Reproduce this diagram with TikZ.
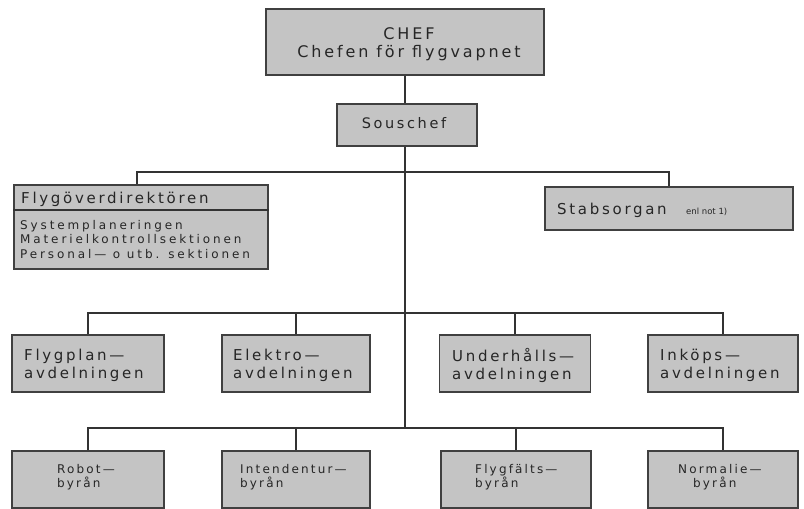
\documentclass[tikz,border=0pt]{standalone}
\usepackage{fontspec}
\setmainfont{DejaVu Sans}
\newfontfamily\wf[LetterSpace=18]{DejaVu Sans}
\newfontfamily\wfw[LetterSpace=24]{DejaVu Sans}
\begin{document}
\begin{tikzpicture}[x=1pt,y=-1pt,
  box/.style={draw=black!75, line width=1.1pt, fill=black!23, inner sep=0pt},
  conn/.style={draw=black!80, line width=1.1pt},
  lbl/.style={inner sep=0pt, align=left, text=black!85},
  big/.style={lbl, font=\wf\fontsize{15}{18}\selectfont},
  mid/.style={lbl, font=\wfw\fontsize{12}{14.5}\selectfont},
  sml/.style={lbl, font=\wf\fontsize{12}{13.5}\selectfont}]
\useasboundingbox (0,0) rectangle (804,509);
% top
\node[box, minimum width=278pt, minimum height=66pt] (chef) at (405,42) {};
\node[lbl, align=center, font=\wf\fontsize{16}{18}\selectfont] (chefT) at (409,44) {CHEF\\Chefen för flygvapnet};
\node[box, minimum width=140pt, minimum height=42pt] (sous) at (407,125) {};
\node[lbl, font=\wf\fontsize{14.5}{17}\selectfont] (sousT) at (404,123) {Souschef};
% second level
\node[box, minimum width=254pt, minimum height=84pt] (fod) at (141,227) {};
\draw[conn] (fod.west |- 0,210) coordinate (dl) -- (fod.east |- 0,210) coordinate (dr);
\node[lbl, anchor=base west, font=\wf\fontsize{15}{17}\selectfont] (fodT) at (21,203) {Flygöverdirektören};
\node[mid, anchor=north west] (fodS) at (20,220) {Systemplaneringen\\Materielkontrollsektionen\\Personal— o utb. sektionen};
\node[box, minimum width=248pt, minimum height=43pt] (stab) at (669,208.5) {};
\node[lbl, anchor=base west, font=\wf\fontsize{15}{17}\selectfont] (stabT) at (557,214) {Stabsorgan};
\node[lbl, anchor=base west, font=\fontsize{8.5}{9}\selectfont] (stabN) at (686,214) {enl not 1)};
% junctions
\coordinate (j1) at (405,172);
\coordinate (j2) at (405,313);
\coordinate (j3) at (405,428);
% row 2
\node[box, minimum width=152pt, minimum height=57pt] (fp) at (88,363.5) {};
\node[big, anchor=west] (fpT) at (24,365) {Flygplan—\\avdelningen};
\node[box, minimum width=148pt, minimum height=57pt] (el) at (296,363.5) {};
\node[big, anchor=west] (elT) at (233,365) {Elektro—\\avdelningen};
\node[box, minimum width=151pt, minimum height=57pt] (uh) at (515,363.5) {};
\node[big, anchor=west] (uhT) at (452,365) {Underhålls—\\avdelningen};
\node[box, minimum width=150pt, minimum height=57pt] (ik) at (723,363.5) {};
\node[big, anchor=west] (ikT) at (660,365) {Inköps—\\avdelningen};
% row 3
\node[box, minimum width=152pt, minimum height=57pt] (rb) at (88,479.5) {};
\node[sml, anchor=west] (rbT) at (57,477) {Robot—\\byrån};
\node[box, minimum width=148pt, minimum height=57pt] (in) at (296,479.5) {};
\node[sml, anchor=west] (inT) at (240,477) {Intendentur—\\byrån};
\node[box, minimum width=150pt, minimum height=57pt] (ff) at (516,479.5) {};
\node[sml, anchor=west] (ffT) at (475,477) {Flygfälts—\\byrån};
\node[box, minimum width=150pt, minimum height=57pt] (nm) at (723,479.5) {};
\node[sml, anchor=west] (nmT) at (678,477) {Normalie—\\\hspace*{15pt}byrån};
% connectors
\draw[conn] (chef.south) -- (sous.north -| chef.south);
\draw[conn] (sous.south -| chef.south) -- (j3);
\draw[conn] ([xshift=-4pt]fod.north) |- (j1) -| (stab.north);
\draw[conn] (fp.north) |- (j2) -| (ik.north);
\draw[conn] (el.north) -- (el.north |- j2);
\draw[conn] (uh.north) -- (uh.north |- j2);
\draw[conn] (rb.north) |- (j3) -| (nm.north);
\draw[conn] (in.north) -- (in.north |- j3);
\draw[conn] (ff.north) -- (ff.north |- j3);
\end{tikzpicture}
\end{document}
